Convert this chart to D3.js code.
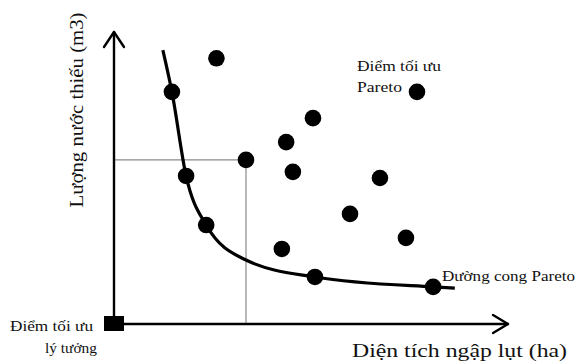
<!DOCTYPE html>
<html>
<head>
<meta charset="utf-8">
<script src="https://cdn.jsdelivr.net/npm/d3@7"></script>
<style>
  html, body { margin: 0; padding: 0; background: #fff; }
  svg { display: block; }
  text { font-family: "Liberation Serif", "Times New Roman", serif; fill: #111; }
</style>
</head>
<body>
<svg id="chart" width="577" height="363"></svg>
<script>
// ---- data (abstract units, 0..100 on both axes) ----
const solutionX = [26, 14.7, 50.5, 43.7, 33.5, 18.3, 45.4, 67.5, 59.9, 23.4, 74.1, 42.6, 51, 81, 76.9];
const solutionY = [91, 79.5, 70.5, 62.3, 56.2, 50.7, 52.1, 50, 37.7, 33.9, 29.5, 25.7, 16.1, 12.7, 79.5];
const frontX = [12.4, 14.7, 18.3, 23.4, 33.5, 51, 81, 86.5];
const frontY = [93.8, 79.5, 50.7, 33.9, 21.9, 16.1, 12.7, 12.3];
const selectedIndex = 4;          // point with reference lines
const idealPoint = [0, 0];
const labels = {
  x: "Diện tích ngập lụt (ha)",
  y: "Lượng nước thiếu (m3)",
  pareto: ["Điểm tối ưu", "Pareto"],
  ideal: ["Điểm tối ưu", "lý tưởng"],
  front: "Đường cong Pareto"
};

const svg = d3.select("#chart");
const x = d3.scaleLinear().domain([0, 100]).range([114, 508]);
const y = d3.scaleLinear().domain([0, 100]).range([324, 32]);

// reference gray lines
const sx = solutionX[selectedIndex], sy = solutionY[selectedIndex];
svg.append("line").attr("x1", x(0)).attr("x2", x(sx)).attr("y1", y(sy)).attr("y2", y(sy))
  .attr("stroke", "#8a8a8a").attr("stroke-width", 1.2);
svg.append("line").attr("x1", x(sx)).attr("x2", x(sx)).attr("y1", y(sy)).attr("y2", y(0))
  .attr("stroke", "#8a8a8a").attr("stroke-width", 1.2);

// axes with arrowheads
const ax = svg.append("g").attr("stroke", "#000").attr("stroke-width", 2.4).attr("fill", "none")
  .attr("stroke-linecap", "round").attr("stroke-linejoin", "round");
ax.append("line").attr("x1", x(0)).attr("x2", x(100)).attr("y1", y(0)).attr("y2", y(0));
ax.append("line").attr("x1", x(0)).attr("x2", x(0)).attr("y1", y(0)).attr("y2", y(100));
ax.append("path").attr("d", `M${x(100) - 15},${y(0) - 9}L${x(100)},${y(0)}L${x(100) - 15},${y(0) + 9}`);
ax.append("path").attr("d", `M${x(0) - 10},${y(100) + 15}L${x(0)},${y(100)}L${x(0) + 10},${y(100) + 15}`);

// Pareto front curve
const front = frontX.map((v, i) => [v, frontY[i]]);
svg.append("path")
  .datum(front)
  .attr("d", d3.line().x(d => x(d[0])).y(d => y(d[1])).curve(d3.curveMonotoneX))
  .attr("fill", "none").attr("stroke", "#000").attr("stroke-width", 3.2);

// solution points
svg.append("g").selectAll("circle")
  .data(solutionX.map((v, i) => [v, solutionY[i]]))
  .join("circle")
  .attr("cx", d => x(d[0])).attr("cy", d => y(d[1])).attr("r", 8.3)
  .attr("fill", "#000");

// ideal point square
svg.append("rect")
  .attr("x", x(idealPoint[0]) - 10).attr("y", y(idealPoint[1]) - 8)
  .attr("width", 20).attr("height", 15).attr("fill", "#000");

// texts
svg.append("text")
  .attr("transform", `translate(83,110) rotate(-90)`)
  .attr("text-anchor", "middle").attr("font-size", 19)
  .attr("textLength", 195).attr("lengthAdjust", "spacingAndGlyphs")
  .text(labels.y);

svg.append("text")
  .attr("x", 352).attr("y", 357).attr("font-size", 19)
  .attr("textLength", 215).attr("lengthAdjust", "spacingAndGlyphs")
  .text(labels.x);

svg.append("text").attr("x", 357).attr("y", 71).attr("font-size", 15)
  .attr("textLength", 84).attr("lengthAdjust", "spacingAndGlyphs").text(labels.pareto[0]);
svg.append("text").attr("x", 357).attr("y", 92).attr("font-size", 15)
  .attr("textLength", 45).attr("lengthAdjust", "spacingAndGlyphs").text(labels.pareto[1]);

svg.append("text").attr("x", 93).attr("y", 331).attr("font-size", 15).attr("text-anchor", "end")
  .attr("textLength", 83).attr("lengthAdjust", "spacingAndGlyphs").text(labels.ideal[0]);
svg.append("text").attr("x", 97).attr("y", 353).attr("font-size", 15).attr("text-anchor", "end")
  .attr("textLength", 52).attr("lengthAdjust", "spacingAndGlyphs").text(labels.ideal[1]);

svg.append("text").attr("x", 442).attr("y", 281).attr("font-size", 15)
  .attr("textLength", 133).attr("lengthAdjust", "spacingAndGlyphs").text(labels.front);
</script>
</body>
</html>
